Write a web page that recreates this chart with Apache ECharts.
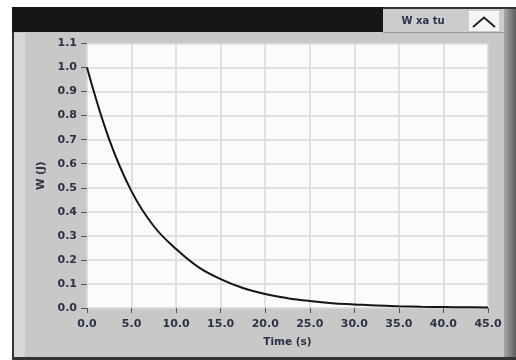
<!DOCTYPE html>
<html>
<head>
<meta charset="utf-8">
<script src="https://cdn.jsdelivr.net/npm/echarts@6/dist/echarts.min.js"></script>
<style>
html,body{margin:0;padding:0;background:#fff;}
#c{width:516px;height:360px;}
</style>
</head>
<body>
<div id="c"></div>
<script>
const timeValues = [0, 2.5, 5, 7.5, 10, 12.5, 15, 17.5, 20, 22.5, 25, 27.5, 30, 32.5, 35, 37.5, 40, 42.5, 45];
const wValues = [1.0, 0.70, 0.485, 0.34, 0.245, 0.17, 0.12, 0.083, 0.058, 0.041, 0.029, 0.02, 0.015, 0.01, 0.007, 0.005, 0.004, 0.003, 0.002];
const seriesName = 'W xa tu';
const xAxisTitle = 'Time (s)';
const yAxisTitle = 'W (J)';

const chart = echarts.init(document.getElementById('c'), null, {renderer: 'canvas'});
const labelColor = '#2b3242';
const fontFam = 'DejaVu Sans';

const option = {
  backgroundColor: '#ffffff',
  animation: false,
  graphic: [
    {type: 'rect', z: -10, shape: {x: 12, y: 7, width: 504, height: 353}, style: {fill: '#333333'}},
    {type: 'rect', z: -9, shape: {x: 14, y: 31, width: 490, height: 326}, style: {fill: '#c8c8c8'}},
    {type: 'rect', z: -8, shape: {x: 14, y: 33, width: 11, height: 324}, style: {fill: '#d7d7d7'}},
    {type: 'rect', z: -8, shape: {x: 504, y: 9, width: 12, height: 348},
      style: {fill: new echarts.graphic.LinearGradient(0, 0, 1, 0, [{offset: 0, color: '#a8a8a8'}, {offset: 1, color: '#5e5e5e'}])}},
    {type: 'rect', z: -7, shape: {x: 12, y: 7, width: 371, height: 25}, style: {fill: '#161616'}},
    {type: 'rect', z: -7, shape: {x: 383, y: 9, width: 121, height: 23}, style: {fill: '#cdcdcd'}},
    {type: 'line', z: -6, shape: {x1: 383, y1: 32.5, x2: 504, y2: 32.5}, style: {stroke: '#9a9a9a', lineWidth: 1}},
    {type: 'text', z: 5, style: {x: 423, y: 21, text: seriesName, fill: '#2b3450', font: 'bold 10px "DejaVu Sans"', align: 'center', verticalAlign: 'middle'}},
    {type: 'rect', z: 5, shape: {x: 469, y: 11, width: 30, height: 20}, style: {fill: '#f5f5f5'}},
    {type: 'polyline', z: 6, shape: {points: [[473, 27], [484, 17.5], [495, 27]]}, style: {stroke: '#222222', lineWidth: 2, fill: null}}
  ],
  grid: {
    left: 87, right: 28, top: 43.5, bottom: 52,
    show: true, backgroundColor: '#fbfbfb', borderWidth: 0
  },
  xAxis: {
    type: 'value', min: 0, max: 45, interval: 5,
    name: xAxisTitle, nameLocation: 'middle', nameGap: 29,
    nameTextStyle: {color: labelColor, fontFamily: fontFam, fontWeight: 'bold', fontSize: 10.5},
    axisLine: {show: false},
    axisTick: {show: true, length: 5, lineStyle: {color: '#555', width: 1}},
    axisLabel: {color: labelColor, fontFamily: fontFam, fontWeight: 'bold', fontSize: 11, margin: 11,
      formatter: v => v.toFixed(1)},
    splitLine: {show: true, lineStyle: {color: '#d9d9d9', width: 1.5}}
  },
  yAxis: {
    type: 'value', min: 0, max: 1.1, interval: 0.1,
    name: yAxisTitle, nameLocation: 'middle', nameGap: 38, nameRotate: 90,
    nameTextStyle: {color: labelColor, fontFamily: fontFam, fontWeight: 'bold', fontSize: 10.5},
    axisLine: {show: false},
    axisTick: {show: true, length: 6, lineStyle: {color: '#555', width: 1}},
    axisLabel: {color: labelColor, fontFamily: fontFam, fontWeight: 'bold', fontSize: 11, margin: 10,
      formatter: v => v.toFixed(1)},
    splitLine: {show: true, lineStyle: {color: '#d9d9d9', width: 1.5}}
  },
  series: [{
    name: seriesName,
    type: 'line',
    data: timeValues.map((t, i) => [t, wValues[i]]),
    showSymbol: false,
    smooth: 0.4,
    lineStyle: {color: '#141414', width: 2}
  }]
};
chart.setOption(option);
</script>
</body>
</html>
